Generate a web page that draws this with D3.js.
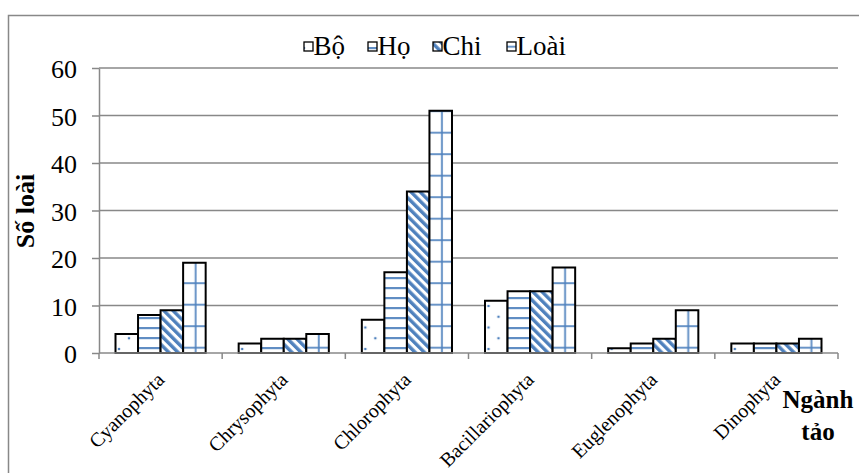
<!DOCTYPE html>
<html>
<head>
<meta charset="utf-8">
<script src="https://cdn.jsdelivr.net/npm/d3@7"></script>
<style>
  html, body { margin: 0; padding: 0; background: #fff; }
  svg { display: block; }
  svg text { font-family: 'Liberation Serif' !important; }
</style>
</head>
<body>
<svg id="chart" width="859" height="473"></svg>
<script>
// Phyla of algae and taxon counts per phylum
const categories = ["Cyanophyta", "Chrysophyta", "Chlorophyta", "Bacillariophyta", "Euglenophyta", "Dinophyta"];
const seriesNames = ["Bộ", "Họ", "Chi", "Loài"];
const boValues   = [4, 2, 7, 11, 1, 2];
const hoValues   = [8, 3, 17, 13, 2, 2];
const chiValues  = [9, 3, 34, 13, 3, 2];
const loaiValues = [19, 4, 51, 18, 9, 3];
const yTicks = [0, 10, 20, 30, 40, 50, 60];
const yTitle = "Số loài";
const xTitle = ["Ngành", "tảo"];

const seriesValues = [boValues, hoValues, chiValues, loaiValues];
const rows = categories.map((c, i) => ({
  cat: c,
  vals: seriesNames.map((s, j) => ({ key: s, value: seriesValues[j][i] }))
}));

const FONT = "'Liberation Serif'";
const svg = d3.select("#chart");
const blue = "#4F81BD";
const grid = "#888888";

const plot = { left: 99, right: 838, top: 68, bottom: 353 };

// text helper: every label gets the serif face set inline
function serif(sel, size, weight) {
  return sel.attr("font-family", FONT)
    .style("font-family", FONT)
    .attr("font-size", size)
    .style("font-size", size + "px")
    .style("font-weight", weight || "normal");
}

// ---- fill patterns ----
const defs = svg.append("defs");

// Bộ: sparse dots
const pDots = defs.append("pattern").attr("id", "pat-0")
  .attr("patternUnits", "userSpaceOnUse").attr("width", 20).attr("height", 21.5)
  .attr("x", 0).attr("y", 5);
pDots.append("rect").attr("width", 20).attr("height", 21.5).attr("fill", "#fff");
[[0, 0], [20, 0], [0, 21.5], [20, 21.5], [10, 10.75]].forEach(([cx, cy]) => {
  pDots.append("circle").attr("cx", cx).attr("cy", cy).attr("r", 1.3).attr("fill", blue);
});

// Họ: horizontal lines
const pH = defs.append("pattern").attr("id", "pat-1")
  .attr("patternUnits", "userSpaceOnUse").attr("width", 10).attr("height", 10).attr("y", 3);
pH.append("rect").attr("width", 10).attr("height", 10).attr("fill", "#fff");
pH.append("rect").attr("y", 4).attr("width", 10).attr("height", 2.2).attr("fill", blue).attr("opacity", 0.9);

// Chi: wide diagonal stripes
const pD = defs.append("pattern").attr("id", "pat-2")
  .attr("patternUnits", "userSpaceOnUse").attr("width", 6.5).attr("height", 6.5)
  .attr("patternTransform", "rotate(-45)");
pD.append("rect").attr("width", 6.5).attr("height", 6.5).attr("fill", "#fff");
pD.append("rect").attr("width", 3.4).attr("height", 6.5).attr("fill", blue);

// Loài: large grid
const pG = defs.append("pattern").attr("id", "pat-3")
  .attr("patternUnits", "userSpaceOnUse").attr("width", 21.5).attr("height", 21.5)
  .attr("x", 0).attr("y", 2.7);
pG.append("rect").attr("width", 21.5).attr("height", 21.5).attr("fill", "#fff");
pG.append("rect").attr("x", 9.6).attr("width", 2).attr("height", 21.5).attr("fill", blue).attr("opacity", 0.85);
pG.append("rect").attr("y", 0).attr("width", 21.5).attr("height", 2).attr("fill", blue).attr("opacity", 0.85);

// ---- outer frame ----
svg.append("rect")
  .attr("x", 8.5).attr("y", 15.5).attr("width", 900).attr("height", 900)
  .attr("fill", "none").attr("stroke", grid).attr("stroke-width", 1.5);

// ---- scales ----
const x0 = d3.scaleBand().domain(categories).range([plot.left, plot.right]).padding(0);
const bw = x0.bandwidth();
const groupInset = bw * 0.134;
const x1 = d3.scaleBand().domain(seriesNames).range([groupInset, bw - groupInset]).padding(0);
const y = d3.scaleLinear().domain([0, 60]).range([plot.bottom, plot.top]);

// ---- gridlines ----
svg.append("g").selectAll("line").data(yTicks.filter(t => t > 0)).join("line")
  .attr("x1", plot.left).attr("x2", plot.right)
  .attr("y1", d => y(d)).attr("y2", d => y(d))
  .attr("stroke", grid).attr("stroke-width", 1.5);

// ---- y axis ----
const yAxis = svg.append("g").attr("transform", `translate(${plot.left},0)`)
  .call(d3.axisLeft(y).tickValues(yTicks).tickSize(7).tickPadding(15).tickSizeOuter(0));
yAxis.attr("font-family", null).attr("font-size", null);
yAxis.select(".domain").attr("stroke", grid).attr("stroke-width", 1.5);
yAxis.selectAll(".tick line").attr("stroke", grid).attr("stroke-width", 1.5);
serif(yAxis.selectAll(".tick text"), 26).attr("fill", "#000").attr("dy", "0.38em");

// ---- bars ----
const groups = svg.append("g").selectAll("g").data(rows).join("g")
  .attr("transform", d => `translate(${x0(d.cat)},0)`);
groups.selectAll("rect").data(d => d.vals).join("rect")
  .attr("x", d => x1(d.key))
  .attr("y", d => y(d.value))
  .attr("width", x1.bandwidth())
  .attr("height", d => y(0) - y(d.value))
  .attr("fill", (d, i) => `url(#pat-${i})`)
  .attr("stroke", "#000").attr("stroke-width", 2);

// ---- x axis ----
const xAxis = svg.append("g");
xAxis.append("line")
  .attr("x1", plot.left).attr("x2", plot.right)
  .attr("y1", y(0)).attr("y2", y(0))
  .attr("stroke", grid).attr("stroke-width", 1.5);
const bounds = categories.map(c => x0(c)).concat([plot.right]);
xAxis.selectAll("line.tk").data(bounds).join("line").attr("class", "tk")
  .attr("x1", d => d).attr("x2", d => d)
  .attr("y1", y(0)).attr("y2", y(0) + 6)
  .attr("stroke", grid).attr("stroke-width", 1.5);
serif(xAxis.selectAll("text").data(categories).join("text"), 20)
  .attr("transform", d => `translate(${x0(d) + bw / 2 + 5},381) rotate(-45)`)
  .attr("text-anchor", "end")
  .text(d => d);

// ---- axis titles ----
serif(svg.append("text"), 26, "bold")
  .attr("transform", "translate(34,211) rotate(-90)")
  .attr("text-anchor", "middle")
  .text(yTitle);
xTitle.forEach((t, i) => {
  serif(svg.append("text"), 25, "bold")
    .attr("x", 818).attr("y", 408 + i * 32)
    .attr("text-anchor", "middle")
    .text(t);
});

// ---- legend ----
const legendX = [304, 368, 433, 507];
const legend = svg.append("g").selectAll("g").data(seriesNames).join("g")
  .attr("transform", (d, i) => `translate(${legendX[i]},0)`);
legend.append("rect")
  .attr("x", 0).attr("y", 42).attr("width", 9).attr("height", 9)
  .attr("fill", (d, i) => `url(#pat-${i})`)
  .attr("stroke", "#000").attr("stroke-width", 1.3);
serif(legend.append("text"), 27)
  .attr("x", 9.5).attr("y", 54.5)
  .text(d => d);
</script>
</body>
</html>
